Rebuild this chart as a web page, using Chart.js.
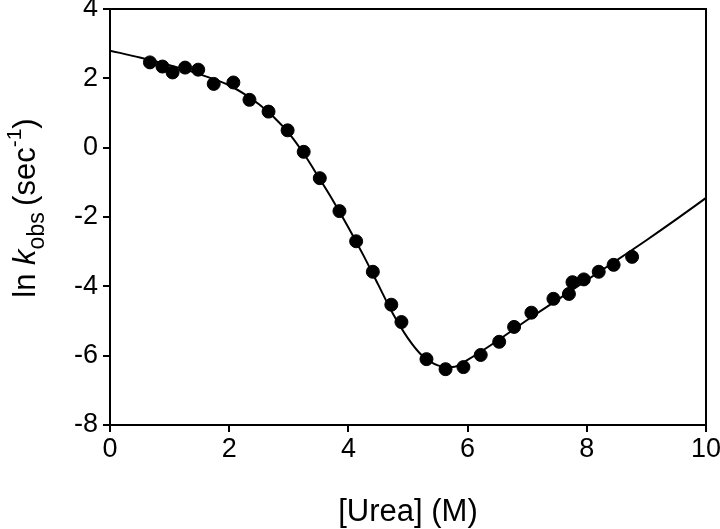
<!DOCTYPE html>
<html>
<head>
<meta charset="utf-8">
<script src="https://cdn.jsdelivr.net/npm/chart.js@4/dist/chart.umd.min.js"></script>
<style>
  html, body { margin: 0; padding: 0; background: #fff; }
  #wrap { width: 720px; height: 529px; position: relative; }
</style>
</head>
<body>
<div id="wrap"><canvas id="chart"></canvas></div>
<script>
const ureaObs = [0.67, 0.88, 1.05, 1.26, 1.48, 1.74, 2.07, 2.34, 2.66, 2.98, 3.25, 3.52, 3.85, 4.13,
  4.41, 4.72, 4.89, 5.31, 5.63, 5.93, 6.22, 6.53, 6.78, 7.07, 7.44, 7.70, 7.76, 7.95, 8.20, 8.45, 8.76];
const lnKObs = [2.46, 2.34, 2.17, 2.31, 2.25, 1.84, 1.88, 1.38, 1.04, 0.50, -0.12, -0.88, -1.83, -2.70,
  -3.58, -4.53, -5.03, -6.10, -6.39, -6.33, -5.98, -5.60, -5.17, -4.76, -4.36, -4.22, -3.88, -3.80, -3.58, -3.38, -3.15];

// fitted curve
const ureaFit = [0, 0.5, 1, 1.5, 2, 2.25, 2.5, 2.75, 3, 3.25, 3.5, 3.75, 4, 4.25, 4.5, 4.75, 5, 5.25, 5.5, 5.75,
  6, 6.5, 7, 7.5, 8, 8.5, 9, 9.5, 10];
const lnKFit = [2.80, 2.60, 2.38, 2.12, 1.80, 1.55, 1.25, 0.88, 0.42, -0.17, -0.85, -1.55, -2.30, -3.10, -3.95, -4.80,
  -5.50, -6.02, -6.28, -6.33, -6.12, -5.57, -4.97, -4.40, -3.82, -3.25, -2.67, -2.07, -1.45];

const xTicks = [0, 2, 4, 6, 8, 10];
const yTicks = [-8, -6, -4, -2, 0, 2, 4];

const FONT = "'Liberation Sans', Arial, Helvetica, sans-serif";

// frame on top/right + axis titles with sub/superscripts
const decorations = {
  id: 'decorations',
  afterDraw(chart) {
    const { ctx, chartArea: a } = chart;
    ctx.save();
    ctx.strokeStyle = '#000';
    ctx.lineWidth = 2;
    ctx.beginPath();
    ctx.moveTo(a.left, a.top);
    ctx.lineTo(a.right, a.top);
    ctx.lineTo(a.right, a.bottom);
    ctx.stroke();

    ctx.fillStyle = '#000';
    ctx.textBaseline = 'alphabetic';
    ctx.font = '31px ' + FONT;
    ctx.textAlign = 'center';
    ctx.fillText('[Urea] (M)', 408, 521);

    // y title, rotated
    const parts = [
      { t: 'ln ', f: '31px ' + FONT, dy: 0 },
      { t: 'k', f: 'italic 31px ' + FONT, dy: 0 },
      { t: 'obs ', f: '23px ' + FONT, dy: 9 },
      { t: '(sec', f: '31px ' + FONT, dy: 0 },
      { t: '-1', f: '21px ' + FONT, dy: -14 },
      { t: ')', f: '31px ' + FONT, dy: 0 }
    ];
    ctx.textAlign = 'left';
    let total = 0;
    parts.forEach(p => { ctx.font = p.f; p.w = ctx.measureText(p.t).width; total += p.w; });
    ctx.translate(35, 208);
    ctx.rotate(-Math.PI / 2);
    let x = -total / 2;
    parts.forEach(p => {
      ctx.font = p.f;
      ctx.fillText(p.t, x, p.dy);
      x += p.w;
    });
    ctx.restore();
  }
};

new Chart(document.getElementById('chart'), {
  type: 'scatter',
  data: {
    datasets: [
      {
        label: 'fit',
        type: 'line',
        data: ureaFit.map((x, i) => ({ x: x, y: lnKFit[i] })),
        borderColor: '#000',
        borderWidth: 2,
        pointRadius: 0,
        fill: false,
        cubicInterpolationMode: 'monotone'
      },
      {
        label: 'data',
        data: ureaObs.map((x, i) => ({ x: x, y: lnKObs[i] })),
        backgroundColor: '#000',
        borderColor: '#000',
        pointRadius: 6.5,
        pointHoverRadius: 6.5
      }
    ]
  },
  options: {
    responsive: true,
    maintainAspectRatio: false,
    animation: false,
    layout: { padding: { left: 0, right: 14, top: 9, bottom: 0 } },
    plugins: { legend: { display: false }, tooltip: { enabled: false } },
    scales: {
      x: {
        type: 'linear',
        min: 0, max: 10,
        afterBuildTicks: s => { s.ticks = xTicks.map(v => ({ value: v })); },
        afterFit: s => { s.height = 104; s.paddingLeft = 0; s.paddingRight = 0; },
        border: { display: true, color: '#000', width: 2 },
        grid: { drawOnChartArea: false, drawTicks: true, tickLength: 7, color: '#000', lineWidth: 2 },
        ticks: { color: '#000', font: { family: FONT, size: 27 }, padding: 1, maxRotation: 0 }
      },
      y: {
        type: 'linear',
        min: -8, max: 4,
        afterBuildTicks: s => { s.ticks = yTicks.map(v => ({ value: v })); },
        afterFit: s => { s.width = 110; s.paddingTop = 0; s.paddingBottom = 0; },
        border: { display: true, color: '#000', width: 2 },
        grid: { drawOnChartArea: false, drawTicks: true, tickLength: 7, color: '#000', lineWidth: 2 },
        ticks: { color: '#000', font: { family: FONT, size: 27 }, padding: 5 }
      }
    }
  },
  plugins: [decorations]
});
</script>
</body>
</html>
